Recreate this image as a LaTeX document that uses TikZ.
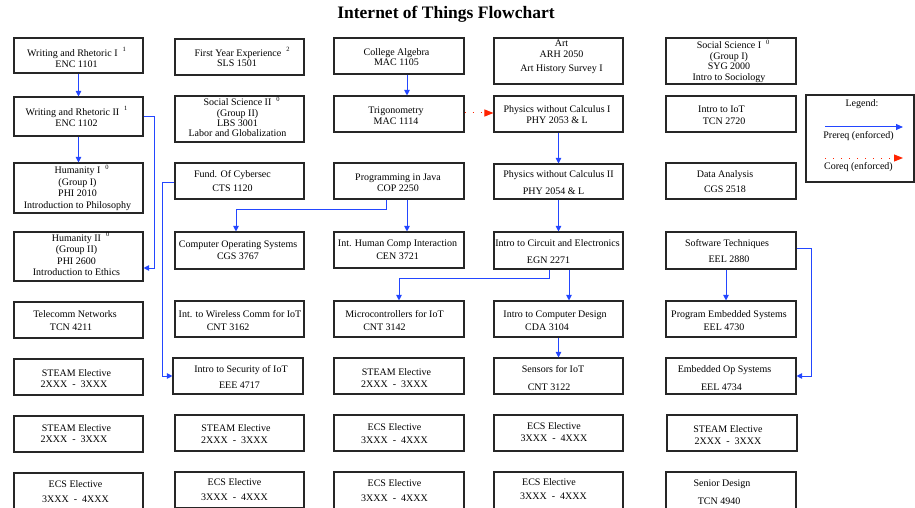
\documentclass[tikz,border=0pt]{standalone}
\usepackage{fontspec}
\setmainfont{Liberation Serif}
\usetikzlibrary{arrows.meta,calc,fit}
\definecolor{pblue}{RGB}{35,70,255}
\definecolor{cred}{RGB}{255,35,0}
\newcommand\supr[1]{\rlap{\hspace{5pt}\raisebox{4.5pt}{\smash{\fontsize{6.5}{7}\selectfont #1}}}}
\newcommand\supi[1]{\hspace{5pt}\raisebox{4.5pt}{\smash{\fontsize{6.5}{7}\selectfont #1}}}
\newcommand\lsh[2]{\mbox{#2\hspace*{#1}}}
\newcommand\rsh[2]{\mbox{\hspace*{#1}#2}}
\newcommand\crs[8]{%
  \node[cbox, fit={(#2,#3) (#4,#5)}] (#1) {};
  \node[ctxt] (#1-t) at ($(#1.center)+(#6,#7)$) {#8};}
\tikzset{
  cbox/.style={draw=black!85, line width=1.1pt, rectangle, inner sep=0pt},
  ctxt/.style={align=center, inner sep=0pt, font=\fontsize{10}{11.5}\selectfont},
  pre/.style={draw=pblue, line width=1pt, -{Triangle[length=5.5pt,width=5.5pt]}},
  coreq/.style={draw=cred, line width=1pt, dash pattern=on 1pt off 7pt, -{Triangle[length=9pt,width=7pt]}},
}
\begin{document}
\begin{tikzpicture}[x=1pt,y=-1pt]
\useasboundingbox (0,0) rectangle (915,508);
\node[inner sep=0pt, font=\bfseries\fontsize{17.5}{20}\selectfont] (title) at (446,14) {Internet of Things Flowchart};
% column 1
\crs{wr1}{14}{38}{143}{73}{-2}{3}{Writing and Rhetoric I\supi{1}\\ENC 1101}
\crs{wr2}{14}{97}{143}{136}{-2}{1}{Writing and Rhetoric II\supi{1}\\ENC 1102}
\crs{hum1}{14}{163}{143}{213}{-1}{1}{Humanity I\supr{0}\\(Group I)\\PHI 2010\\Introduction to Philosophy}
\crs{hum2}{14}{232}{143}{281}{-2}{-1.5}{Humanity II\supr{0}\\(Group II)\\PHI 2600\\Introduction to Ethics}
\crs{tel}{14}{302}{143}{338}{-3.5}{0.5}{Telecomm Networks\\[1.5pt]\lsh{8pt}{TCN 4211}}
\crs{st1}{14}{359}{143}{395}{-2}{1.5}{STEAM Elective\\\lsh{5pt}{2XXX\ \ -\ \ 3XXX}}
\crs{st2}{14}{416}{143}{452}{-2}{-0.5}{STEAM Elective\\\lsh{5pt}{2XXX\ \ -\ \ 3XXX}}
\crs{ecs1}{14}{473}{143}{510}{-3}{0}{ECS Elective\\[3.5pt]3XXX\ \ -\ \ 4XXX}
% column 2
\crs{fye}{175}{39}{304}{75}{-1.5}{1}{First Year Experience\supr{2}\\[-1.5pt]\lsh{2pt}{SLS 1501}}
\crs{ss2}{175}{96}{304}{142}{-2}{-1}{Social Science II\supr{0}\\[-1.2pt](Group II)\\[-1.2pt]LBS 3001\\[-1.2pt]Labor and Globalization}
\crs{cyb}{175}{163}{304}{199}{-7}{0}{Fund. Of Cybersec\\[2.5pt]CTS 1120}
\crs{os}{175}{232}{304}{269}{-1.5}{-0.5}{Computer Operating Systems\\CGS 3767}
\crs{wl}{175}{301}{304}{337}{0.5}{1.5}{Int. to Wireless Comm for IoT\\[1.5pt]\lsh{24pt}{CNT 3162}}
\crs{sec}{173}{358}{303}{394}{3}{1}{Intro to Security of IoT\\[5pt]\lsh{3pt}{EEE 4717}}
\crs{st3}{175}{415}{304}{451}{-3.5}{1}{STEAM Elective\\\lsh{3pt}{2XXX\ \ -\ \ 3XXX}}
\crs{ecs2}{175}{472}{304}{508}{-5}{0}{ECS Elective\\[3.5pt]3XXX\ \ -\ \ 4XXX}
% column 3
\crs{alg}{334}{38}{464}{74}{-2.5}{1}{College Algebra\\[-1.5pt]MAC 1105}
\crs{trig}{334}{96}{464}{132}{-3}{1.5}{Trigonometry\\MAC 1114}
\crs{java}{334}{163}{464}{199}{-1}{1.5}{Programming in Java\\[-0.5pt]COP 2250}
\crs{ihci}{334}{232}{464}{268}{-1.5}{-0.5}{Int. Human Comp Interaction\\[1.5pt]CEN 3721}
\crs{mic}{334}{301}{464}{337}{-4.5}{1.5}{Microcontrollers for IoT\\[1.5pt]\lsh{20pt}{CNT 3142}}
\crs{st4}{334}{358}{464}{394}{-2.5}{2}{STEAM Elective\\\lsh{4pt}{2XXX\ \ -\ \ 3XXX}}
\crs{ecs3}{334}{415}{464}{451}{-4.5}{0.5}{ECS Elective\\[1.5pt]3XXX\ \ -\ \ 4XXX}
\crs{ecs4}{334}{472}{464}{510}{-4.5}{0}{ECS Elective\\[3.5pt]3XXX\ \ -\ \ 4XXX}
% column 4
\crs{art}{494}{38}{623}{84}{3}{-4}{Art\\ARH 2050\\[2.5pt]Art History Survey I}
\crs{ph1}{494}{96}{623}{132}{-1.5}{0.5}{Physics without Calculus I\\[-0.5pt]PHY 2053 \& L}
\crs{ph2}{494}{164}{623}{199}{0}{1}{Physics without Calculus II\\[5.5pt]\lsh{10pt}{PHY 2054 \& L}}
\crs{circ}{494}{232}{623}{269}{-1}{1}{Intro to Circuit and Electronics\\[5.5pt]\lsh{18pt}{EGN 2271}}
\crs{cda}{494}{301}{623}{337}{-3.5}{1.5}{Intro to Computer Design\\[1.5pt]\lsh{16pt}{CDA 3104}}
\crs{sens}{494}{358}{623}{394}{-5.5}{2}{Sensors for IoT\\[6.5pt]\lsh{8pt}{CNT 3122}}
\crs{ecs5}{494}{415}{623}{451}{-4.5}{-1}{ECS Elective\\[0.5pt]3XXX\ \ -\ \ 4XXX}
\crs{ecs6}{494}{472}{623}{510}{-5}{-2}{\lsh{9pt}{ECS Elective}\\[2.5pt]3XXX\ \ -\ \ 4XXX}
% column 5
\crs{ss1}{666}{38}{796}{84}{-2}{1}{Social Science I\supr{0}\\[-1pt](Group I)\\[-1pt]SYG 2000\\[-1pt]Intro to Sociology}
\crs{iot}{666}{96}{796}{132}{-9.5}{1}{Intro to IoT\\[0.5pt]\rsh{5pt}{TCN 2720}}
\crs{da}{666}{163}{796}{199}{-6}{0.5}{Data Analysis\\[3.5pt]CGS 2518}
\crs{sw}{666}{232}{796}{269}{-4}{0.5}{Software Techniques\\[4.5pt]\rsh{4pt}{EEL 2880}}
\crs{pes}{666}{301}{796}{337}{-2}{1.5}{Program Embedded Systems\\[1.5pt]\lsh{10pt}{EEL 4730}}
\crs{eos}{666}{358}{796}{394}{-6.5}{2}{Embedded Op Systems\\[6.5pt]\lsh{6pt}{EEL 4734}}
\crs{st5}{667}{415}{797}{451}{-4}{2}{STEAM Elective\\2XXX\ \ -\ \ 3XXX}
\crs{sd}{666}{472}{796}{510}{-9}{1}{Senior Design\\[6.5pt]\lsh{6pt}{TCN 4940}}
% legend
\node[cbox, fit={(806,95) (914,182)}] (leg) {};
\node[ctxt] (leg-t) at (862,104) {Legend:};
\coordinate (lb1) at (825,127);
\coordinate (lb2) at (903,127);
\draw[pre, -{Triangle[length=7pt,width=6pt]}] (lb1) -- (lb2);
\node[ctxt] (leg-p) at (858.5,136.5) {Prereq (enforced)};
\coordinate (lr1) at (825,158);
\coordinate (lr2) at (903,158);
\draw[coreq] (lr1) -- (lr2);
\node[ctxt] (leg-c) at (858.5,167.5) {Coreq (enforced)};
% connectors
\draw[pre] (wr1) -- (wr2);
\draw[pre] (wr2) -- (hum1);
\draw[pre] (wr2.east) -- ++(11,0) |- ([yshift=-11.5pt]hum2.east);
\draw[pre] ([yshift=-1pt]cyb.west) -- ++(-12,0) |- (sec.west);
\draw[pre] ([xshift=-13pt]java.south) -- ++(0,10) -| ([xshift=-3.5pt]os.north);
\draw[pre] ([xshift=8pt]java.south) -- ([xshift=8pt]ihci.north);
\draw[pre] ([xshift=8pt]alg.south) -- ([xshift=8pt]trig.north);
\draw[coreq] ([yshift=1pt]trig.east) -- ([yshift=1pt]ph1.west);
\draw[pre] (ph1) -- (ph2);
\draw[pre] (ph2) -- (circ);
\draw[pre] ([xshift=-9.5pt]circ.south) -- ++(0,9) -| (mic.north);
\draw[pre] ([xshift=10.5pt]circ.south) -- ([xshift=10.5pt]cda.north);
\draw[pre] (cda) -- (sens);
\draw[pre] ([xshift=-5pt]sw.south) -- ([xshift=-5pt]pes.north);
\draw[pre] ([yshift=2.5pt]sw.east) -- ++(15,0) |- (eos.east);
\end{tikzpicture}
\end{document}
